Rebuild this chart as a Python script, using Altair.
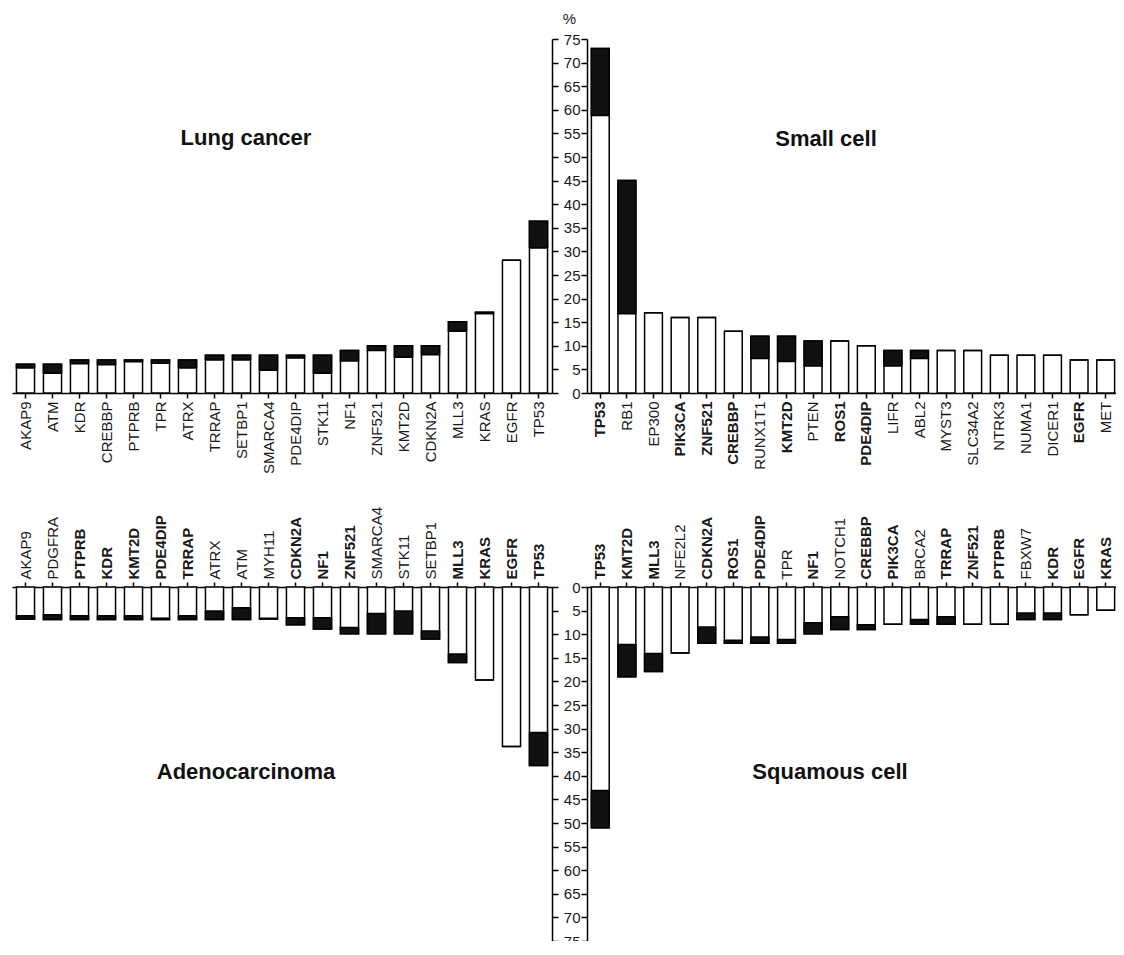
import json
import altair as alt
import pandas as pd

FONT = "Liberation Sans"

# ---------------- data ----------------
lung_genes = ["AKAP9", "ATM", "KDR", "CREBBP", "PTPRB", "TPR", "ATRX", "TRRAP", "SETBP1", "SMARCA4",
              "PDE4DIP", "STK11", "NF1", "ZNF521", "KMT2D", "CDKN2A", "MLL3", "KRAS", "EGFR", "TP53"]
lung_total = [6.1, 6.1, 7.0, 7.0, 7.0, 7.0, 7.0, 8.0, 8.0, 8.0, 8.0, 8.0, 9.0, 10.0, 10.0, 10.0, 15.1, 17.1, 28.1, 36.4]
lung_part = [5.3, 4.2, 6.2, 6.0, 6.6, 6.3, 5.3, 7.0, 7.0, 4.8, 7.4, 4.2, 6.8, 9.0, 7.6, 8.1, 13.1, 16.8, 28.1, 30.7]
lung_bold = []

small_genes = ["TP53", "RB1", "EP300", "PIK3CA", "ZNF521", "CREBBP", "RUNX1T1", "KMT2D", "PTEN", "ROS1",
               "PDE4DIP", "LIFR", "ABL2", "MYST3", "SLC34A2", "NTRK3", "NUMA1", "DICER1", "EGFR", "MET"]
small_total = [73.0, 45.0, 17.0, 16.0, 16.0, 13.1, 12.0, 12.0, 11.0, 11.0, 10.0, 9.0, 9.0, 9.0, 9.0, 8.0, 8.0, 8.0, 7.0, 7.0]
small_part = [58.8, 16.8, 17.0, 16.0, 16.0, 13.1, 7.3, 6.7, 5.7, 11.0, 10.0, 5.7, 7.3, 9.0, 9.0, 8.0, 8.0, 8.0, 7.0, 7.0]
small_bold = ["TP53", "PIK3CA", "ZNF521", "CREBBP", "KMT2D", "ROS1", "PDE4DIP", "EGFR"]

adeno_genes = ["AKAP9", "PDGFRA", "PTPRB", "KDR", "KMT2D", "PDE4DIP", "TRRAP", "ATRX", "ATM", "MYH11",
               "CDKN2A", "NF1", "ZNF521", "SMARCA4", "STK11", "SETBP1", "MLL3", "KRAS", "EGFR", "TP53"]
adeno_total = [6.8, 6.9, 6.9, 6.9, 6.9, 6.9, 6.9, 6.9, 6.9, 6.8, 8.0, 8.9, 9.9, 9.9, 9.9, 11.0, 16.0, 19.7, 33.8, 37.8]
adeno_part = [6.1, 5.9, 6.1, 6.1, 6.1, 6.6, 6.1, 5.1, 4.4, 6.6, 6.5, 6.5, 8.6, 5.6, 5.1, 9.3, 14.2, 19.7, 33.8, 30.8]
adeno_bold = ["PTPRB", "KDR", "KMT2D", "PDE4DIP", "TRRAP", "CDKN2A", "NF1", "ZNF521", "MLL3", "KRAS", "EGFR", "TP53"]

squam_genes = ["TP53", "KMT2D", "MLL3", "NFE2L2", "CDKN2A", "ROS1", "PDE4DIP", "TPR", "NF1", "NOTCH1",
               "CREBBP", "PIK3CA", "BRCA2", "TRRAP", "ZNF521", "PTPRB", "FBXW7", "KDR", "EGFR", "KRAS"]
squam_total = [51.0, 19.0, 17.9, 14.0, 11.9, 11.9, 11.9, 11.9, 9.9, 9.0, 9.0, 7.9, 7.9, 7.9, 7.9, 7.9, 6.9, 6.9, 5.9, 4.9]
squam_part = [43.1, 12.2, 14.1, 14.0, 8.5, 11.3, 10.6, 11.1, 7.6, 6.3, 8.0, 7.9, 6.9, 6.3, 7.9, 7.9, 5.5, 5.5, 5.9, 4.9]
squam_bold = ["TP53", "KMT2D", "MLL3", "CDKN2A", "ROS1", "PDE4DIP", "NF1", "CREBBP", "PIK3CA", "TRRAP",
              "ZNF521", "PTPRB", "KDR", "EGFR", "KRAS"]

y_ticks = list(range(0, 80, 5))

WL, WR, H = 540, 532, 354


def panel(genes, total, part, bold, title, lower, side, tx, ty, width, pct=False):
    df = pd.DataFrame({"gene": genes, "total": total, "part": part})
    test = "indexof(%s, datum.value) >= 0" % json.dumps(bold)
    xaxis = alt.Axis(
        orient="top" if lower else "bottom", labelAngle=270, title=None,
        ticks=True, tickSize=5, tickColor="black", tickWidth=1.5,
        domain=True, domainColor="black", domainWidth=1.5,
        labelPadding=3, labelFontSize=15, labelFont=FONT, labelColor="#1a1a1a",
        labelOverlap=False,
        labelFontWeight={"condition": {"test": test, "value": "bold"}, "value": "normal"},
    )
    if side == "left":
        yaxis = alt.Axis(orient="right", labels=False, title=None, values=y_ticks, grid=False,
                         ticks=True, tickSize=6, tickColor="black", tickWidth=1.5,
                         domainColor="black", domainWidth=1.5)
    else:
        kw = dict(title=None)
        if pct:
            kw = dict(title="%", titleAngle=0, titleX=-18, titleY=-13, titleAlign="center",
                      titleBaseline="bottom", titleFontSize=15, titleFontWeight="normal",
                      titleFont=FONT, titleColor="#1a1a1a")
        yaxis = alt.Axis(orient="left", values=y_ticks, grid=False,
                         ticks=True, tickSize=6, tickColor="black", tickWidth=1.5,
                         domainColor="black", domainWidth=1.5,
                         labelFontSize=15, labelFont=FONT, labelColor="#1a1a1a", labelPadding=1,
                         **kw)
    x = alt.X("gene:N", sort=genes, axis=xaxis,
              scale=alt.Scale(domain=genes, paddingInner=0.33, paddingOuter=0.165))
    yscale = alt.Scale(domain=[0, 75], reverse=lower, nice=False)
    base = alt.Chart(df)
    white = base.mark_bar(fill="white", stroke="black", strokeWidth=1.5).encode(
        x=x, y=alt.Y("total:Q", scale=yscale, axis=yaxis))
    black = base.mark_bar(fill="#111111", stroke="black", strokeWidth=1.5).encode(
        x=x, y=alt.Y("part:Q", scale=yscale, axis=yaxis), y2="total:Q")
    label = alt.Chart(pd.DataFrame({"t": [title]})).mark_text(
        font=FONT, fontSize=22, fontWeight="bold", color="#111111", align="center", baseline="middle"
    ).encode(x=alt.value(tx), y=alt.value(ty), text="t:N")
    return alt.layer(white, black, label).properties(width=width, height=H)


ul = panel(lung_genes, lung_total, lung_part, lung_bold, "Lung cancer", False, "left", 234, 99, WL)
ur = panel(small_genes, small_total, small_part, small_bold, "Small cell", False, "right", 239, 100, WR, pct=True)
ll = panel(adeno_genes, adeno_total, adeno_part, adeno_bold, "Adenocarcinoma", True, "left", 234, 185, WL)
lr = panel(squam_genes, squam_total, squam_part, squam_bold, "Squamous cell", True, "right", 243, 185, WR)

chart = alt.concat(ul, ur, ll, lr, columns=2, spacing={"row": 194, "column": 35}, bounds="flush").properties(
    padding={"left": 4, "top": 3, "right": -3, "bottom": -8}
).configure(font=FONT).configure_view(stroke="transparent", strokeWidth=0)

chart.save("out.html", embed_options={"renderer": "svg", "actions": False})
